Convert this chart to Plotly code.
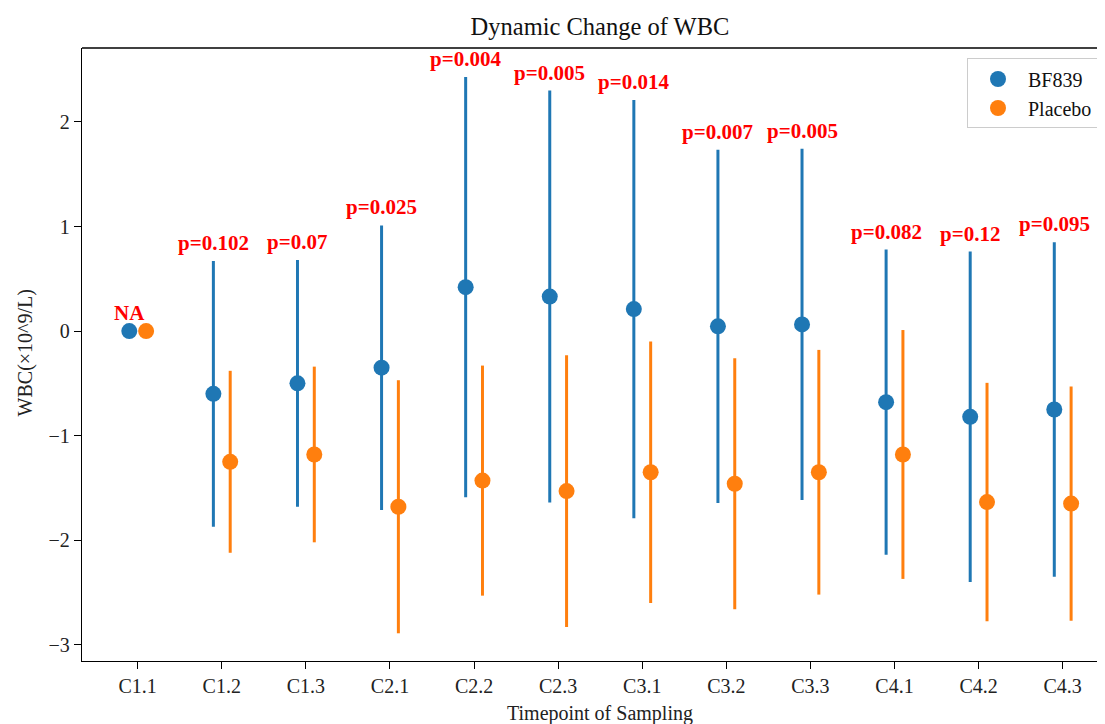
import plotly.graph_objects as go

# timepoints and summary values (mean +/- sd)
timepoints = ['C1.1', 'C1.2', 'C1.3', 'C2.1', 'C2.2', 'C2.3',
              'C3.1', 'C3.2', 'C3.3', 'C4.1', 'C4.2', 'C4.3']
bf839_mean = [0.0, -0.60, -0.50, -0.35, 0.42, 0.33, 0.21, 0.045, 0.064, -0.68, -0.82, -0.75]
bf839_err = [0.0, 1.27, 1.18, 1.36, 2.01, 1.97, 2.00, 1.69, 1.68, 1.46, 1.58, 1.60]
placebo_mean = [0.0, -1.25, -1.18, -1.68, -1.43, -1.53, -1.35, -1.46, -1.35, -1.18, -1.635, -1.65]
placebo_err = [0.0, 0.87, 0.84, 1.21, 1.10, 1.30, 1.25, 1.20, 1.17, 1.19, 1.14, 1.12]
p_labels = ['NA', 'p=0.102', 'p=0.07', 'p=0.025', 'p=0.004', 'p=0.005',
            'p=0.014', 'p=0.007', 'p=0.005', 'p=0.082', 'p=0.12', 'p=0.095']

BLUE = '#1f77b4'
ORANGE = '#ff7f0e'
FONT = 'Liberation Serif'

# the page body has an 8px margin, so the figure is laid out 8px smaller
OFF = 8
W, H = 1105 - OFF, 724 - OFF
L, T = 82 - OFF, 47.5 - OFF
B = H - (660.7 - OFF)


def px_x(page_x):
    return (page_x - OFF - L) / (W - L)


def px_y(page_y):
    return (H - B - (page_y - OFF)) / (H - B - T)


idx = list(range(len(timepoints)))
x_blue = [i - 0.1 for i in idx]
x_orange = [i + 0.1 for i in idx]

fig = go.Figure()

fig.add_trace(go.Scatter(
    x=x_blue, y=bf839_mean, mode='markers', name='BF839',
    marker=dict(color=BLUE, size=16),
    error_y=dict(type='data', array=bf839_err, color=BLUE, thickness=3, width=0)
))
fig.add_trace(go.Scatter(
    x=x_orange, y=placebo_mean, mode='markers', name='Placebo',
    marker=dict(color=ORANGE, size=16),
    error_y=dict(type='data', array=placebo_err, color=ORANGE, thickness=3, width=0)
))

# p-value labels above the BF839 bars
for xb, m, e, lab in zip(x_blue, bf839_mean, bf839_err, p_labels):
    fig.add_annotation(
        x=xb, y=m + e, text='<b>' + lab + '</b>', showarrow=False,
        xanchor='center', yanchor='bottom', yshift=4,
        font=dict(family=FONT, size=21, color='red')
    )

# axis titles placed by hand
fig.add_annotation(xref='paper', yref='paper', x=px_x(600), y=px_y(713),
                   text='Timepoint of Sampling', showarrow=False,
                   xanchor='center', yanchor='middle',
                   font=dict(family=FONT, size=20, color='#222222'))
fig.add_annotation(xref='paper', yref='paper', x=px_x(25), y=px_y(353),
                   text='WBC(×10^9/L)', textangle=-90, showarrow=False,
                   xanchor='center', yanchor='middle',
                   font=dict(family=FONT, size=20, color='#222222'))

# top spine
fig.add_shape(type='line', xref='paper', yref='paper', x0=0, x1=1, y0=1, y1=1,
              line=dict(color='black', width=1.3))

fig.update_layout(
    width=W, height=H,
    margin=dict(l=L, r=0, t=T, b=B, autoexpand=False),
    plot_bgcolor='white', paper_bgcolor='white',
    font=dict(family=FONT, size=20, color='#222222'),
    title=dict(text='Dynamic Change of WBC', x=(600 - OFF) / W, xanchor='center',
               y=1 - (26 - OFF) / H, yanchor='middle', yref='container',
               font=dict(family=FONT, size=24.5, color='#111111')),
    xaxis=dict(
        range=[-0.6624, 11.503], tickvals=idx, ticktext=timepoints,
        showgrid=False, zeroline=False, showline=True, linecolor='black', linewidth=1.3,
        ticks='outside', ticklen=7, tickwidth=1.3, tickcolor='black', automargin=False,
    ),
    yaxis=dict(
        range=[-3.155, 2.707], tickvals=[-3, -2, -1, 0, 1, 2],
        showgrid=False, zeroline=False, showline=True, linecolor='black', linewidth=1.3,
        ticks='outside', ticklen=7, tickwidth=1.3, tickcolor='black', automargin=False,
    ),
    legend=dict(
        x=px_x(967), y=px_y(58), xanchor='left', yanchor='top',
        bgcolor='white', bordercolor='#cccccc', borderwidth=1,
        itemwidth=50, tracegroupgap=0,
        font=dict(family=FONT, size=20, color='#111111'),
    ),
    showlegend=True,
)

fig.write_html('out.html')
